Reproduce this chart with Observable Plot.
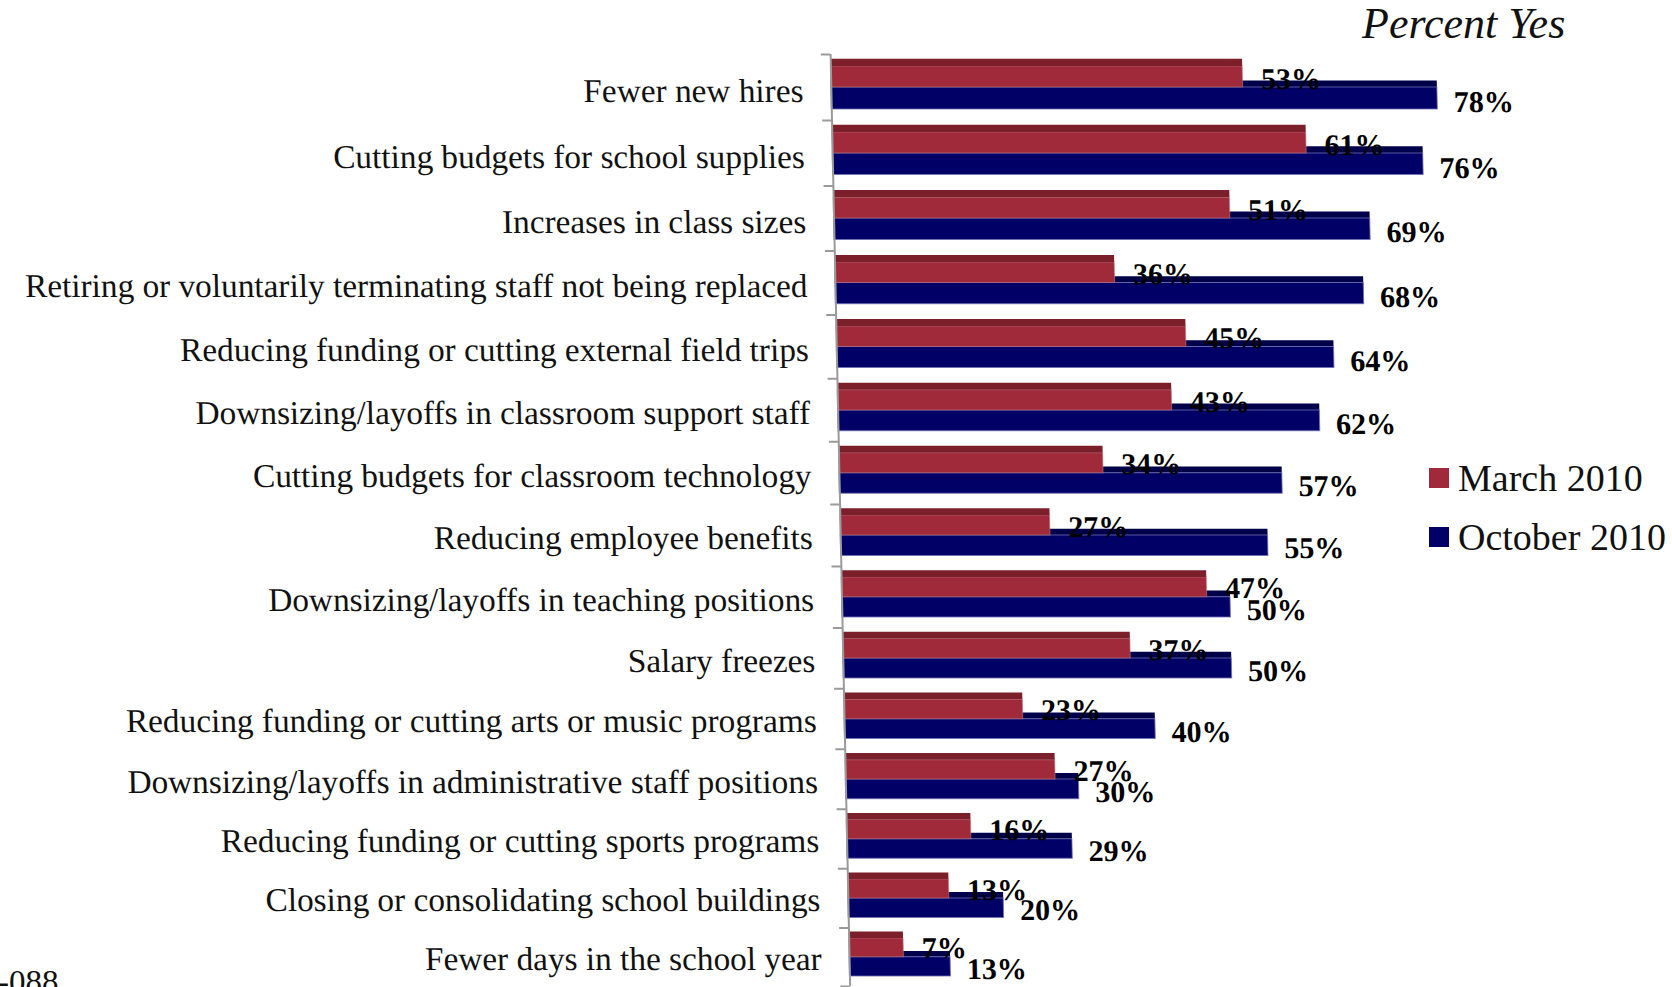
<!DOCTYPE html>
<html>
<head>
<meta charset="utf-8">
<script src="https://cdn.jsdelivr.net/npm/d3@7"></script>
<script src="https://cdn.jsdelivr.net/npm/@observablehq/plot@0.6"></script>
<style>
  html, body { margin: 0; padding: 0; background: #fff; overflow: hidden; }
  #wrap { position: relative; width: 1672px; height: 987px; overflow: hidden; font-family: "Liberation Serif", "Times New Roman", serif; }
  #chart { position: absolute; left: 0; top: 0; }
  #chart svg { transform: skewX(1.2deg); transform-origin: 0 0; }
  .title { position: absolute; left: 1362px; top: 1px; font-size: 44px; font-style: italic; line-height: 1.05; color: #111; white-space: nowrap; }
  .legend-item { position: absolute; left: 1429px; font-size: 38px; line-height: 1; color: #111; white-space: nowrap; display: flex; align-items: center; }
  .legend-item .sw { width: 20px; height: 20px; margin-right: 9px; display: inline-block; }
  .foot { position: absolute; left: -2px; top: 966px; font-size: 33px; line-height: 1; color: #111; }
</style>
</head>
<body>
<div id="wrap">
  <div id="chart"></div>
</div>
<script>
// ---- data ----
const categories = [
  "Fewer new hires",
  "Cutting budgets for school supplies",
  "Increases in class sizes",
  "Retiring or voluntarily terminating staff not being replaced",
  "Reducing funding or cutting external field trips",
  "Downsizing/layoffs in classroom support staff",
  "Cutting budgets for classroom technology",
  "Reducing employee benefits",
  "Downsizing/layoffs in teaching positions",
  "Salary freezes",
  "Reducing funding or cutting arts or music programs",
  "Downsizing/layoffs in administrative staff positions",
  "Reducing funding or cutting sports programs",
  "Closing or consolidating school buildings",
  "Fewer days in the school year"
];
const march2010 = [53, 61, 51, 36, 45, 43, 34, 27, 47, 37, 23, 27, 16, 13, 7];
const october2010 = [78, 76, 69, 68, 64, 62, 57, 55, 50, 50, 40, 30, 29, 20, 13];
const seriesNames = ["March 2010", "October 2010"];
const seriesColors = ["#A0293A", "#000066"];
const titleText = "Percent Yes";
const footText = "-088";

// perspective depth of the first row (rows further down appear slightly closer together)
const depth = 51;
const rows = categories.map((category, i) => ({
  category, row: depth + i, march: march2010[i], october: october2010[i]
}));
const edges = rows.map(d => d.row).concat([depth + categories.length]);

const chart = Plot.plot({
  width: 1672,
  height: 987,
  marginLeft: 829,
  marginRight: 66,
  marginTop: 54,
  marginBottom: 1,
  x: {domain: [0, 100], axis: null},
  y: {type: "pow", exponent: 0.5, domain: [depth, depth + categories.length], reverse: true, axis: null},
  style: {fontFamily: "'Liberation Serif', 'Times New Roman', serif", background: "white", overflow: "visible"},
  marks: [
    // October bar: top face (visible behind March bar) and front
    Plot.rect(rows, {x1: 0, x2: "october", y1: d => d.row + 0.40, y2: d => d.row + 0.5, fill: "#00004A"}),
    Plot.rect(rows, {x1: 0, x2: "october", y1: d => d.row + 0.5, y2: d => d.row + 0.83, fill: seriesColors[1], stroke: "#6f6fb5", strokeWidth: 1, strokeOpacity: 0.8}),
    // March bar: front and top face
    Plot.rect(rows, {x1: 0, x2: "march", y1: d => d.row + 0.18, y2: d => d.row + 0.5, fill: seriesColors[0], stroke: "#c07a84", strokeWidth: 1, strokeOpacity: 0.6}),
    Plot.rect(rows, {x1: 0, x2: "march", y1: d => d.row + 0.07, y2: d => d.row + 0.18, fill: "#7B1F2B"}),
    // axis line and ticks
    Plot.ruleX([0], {stroke: "#9a9a9a", strokeWidth: 2}),
    Plot.ruleY(edges, {x1: -1.2, x2: 0, stroke: "#9a9a9a", strokeWidth: 2}),
    // category labels
    Plot.text(rows, {x: 0, y: d => d.row + 0.72, text: "category", textAnchor: "end", lineAnchor: "bottom", dx: -28, fontSize: 33.3, fill: "#111"}),
    // value labels
    Plot.text(rows, {x: "march", y: d => d.row + 0.52, text: d => d.march + "%", textAnchor: "start", lineAnchor: "bottom", dx: 18, fontSize: 30, fontWeight: "bold", fill: "#000"}),
    Plot.text(rows, {x: "october", y: d => d.row + 0.87, text: d => d.october + "%", textAnchor: "start", lineAnchor: "bottom", dx: 16, fontSize: 30, fontWeight: "bold", fill: "#000"})
  ]
});
document.getElementById("chart").appendChild(chart);

const wrap = document.getElementById("wrap");
const t = document.createElement("div");
t.className = "title";
t.textContent = titleText;
wrap.appendChild(t);

const legendTops = [459, 518];
seriesNames.forEach((name, i) => {
  const item = document.createElement("div");
  item.className = "legend-item";
  item.style.top = legendTops[i] + "px";
  const sw = document.createElement("span");
  sw.className = "sw";
  sw.style.background = seriesColors[i];
  item.appendChild(sw);
  item.appendChild(document.createTextNode(name));
  wrap.appendChild(item);
});

const f = document.createElement("div");
f.className = "foot";
f.textContent = footText;
wrap.appendChild(f);
</script>
</body>
</html>
